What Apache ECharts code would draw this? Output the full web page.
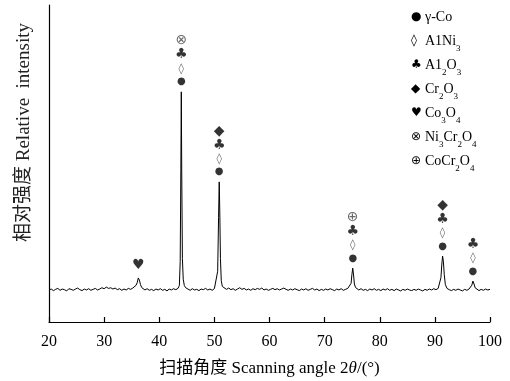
<!DOCTYPE html>
<html><head><meta charset="utf-8">
<script src="https://cdn.jsdelivr.net/npm/echarts@6/dist/echarts.min.js"></script>
<style>html,body{margin:0;padding:0;background:#fff}#c{width:510px;height:381px}</style>
</head><body><div id="c"></div>
<script>
// XRD scan: [2θ (°), relative intensity]
const scan = [
[20.0,101],[20.4,104],[20.8,99],[21.2,103],[21.6,106],[22.0,100],[22.4,104],[22.8,102],[23.2,98],[23.6,105],
[24.0,103],[24.4,100],[24.8,104],[25.2,107],[25.6,102],[26.0,99],[26.4,104],[26.8,101],[27.2,105],[27.6,100],
[28.0,103],[28.4,106],[28.8,101],[29.2,104],[29.6,108],[30.0,105],[30.4,110],[30.8,106],[31.2,108],[31.6,104],
[32.0,107],[32.4,102],[32.8,105],[33.2,100],[33.6,104],[34.0,101],[34.4,106],[34.8,103],[35.2,107],[35.5,111],
[35.8,116],[36.0,124],[36.2,139],[36.4,132],[36.6,118],[36.8,109],[37.1,104],[37.4,101],[37.8,105],[38.2,100],
[38.6,103],[39.0,99],[39.4,104],[39.8,101],[40.2,105],[40.6,100],[41.0,103],[41.4,98],[41.8,104],[42.2,101],
[42.6,105],[43.0,102],[43.4,106],[43.65,115],[43.8,190],[43.92,480],[44.0,726],[44.08,470],[44.2,200],[44.35,135],
[44.55,115],[44.8,108],[45.2,104],[45.6,100],[46.0,105],[46.4,101],[46.8,103],[47.2,99],[47.6,104],[48.0,102],
[48.4,106],[48.8,101],[49.2,104],[49.6,100],[50.0,105],[50.35,110],[50.6,160],[50.76,330],[50.88,442],[50.98,350],
[51.1,200],[51.25,130],[51.45,112],[51.8,106],
[52.2,103],[52.6,107],[53.0,102],[53.4,105],[53.8,100],[54.2,104],[54.6,108],[55.0,103],[55.4,106],[55.8,101],
[56.2,104],[56.6,100],[57.0,105],[57.4,102],[57.8,106],[58.2,103],[58.6,107],[59.0,101],[59.4,104],[59.8,100],
[60.2,103],[60.6,106],[61.0,102],[61.4,105],[61.8,101],[62.2,104],[62.6,107],[63.0,103],[63.4,100],[63.8,104],
[64.2,101],[64.6,105],[65.0,102],[65.4,99],[65.8,104],[66.2,101],[66.6,105],[67.0,100],[67.4,103],[67.8,106],
[68.2,101],[68.6,104],[69.0,99],[69.4,103],[69.8,100],[70.2,104],[70.6,101],[71.0,105],[71.4,102],[71.8,99],
[72.2,104],[72.6,101],[73.0,105],[73.4,100],[73.8,103],[74.2,106],[74.55,108],[74.8,122],[74.95,150],[75.1,170],
[75.25,148],[75.4,120],[75.6,109],[75.9,104],
[76.2,101],[76.6,105],[77.0,100],[77.4,103],[77.8,99],[78.2,104],[78.6,101],[79.0,105],[79.4,100],[79.8,103],
[80.2,99],[80.6,104],[81.0,101],[81.4,105],[81.8,100],[82.2,103],[82.6,99],[83.0,104],[83.4,101],[83.8,98],
[84.2,103],[84.6,100],[85.0,104],[85.4,101],[85.8,99],[86.2,103],[86.6,100],[87.0,104],[87.4,101],[87.8,98],
[88.2,103],[88.6,100],[89.0,104],[89.4,101],[89.8,105],[90.2,102],[90.6,106],[90.9,112],[91.1,140],[91.25,180],
[91.4,208],[91.55,190],[91.7,150],[91.9,118],[92.2,106],
[92.6,102],[93.0,99],[93.4,103],[93.8,100],[94.2,104],[94.6,101],[95.0,98],[95.4,103],[95.8,100],[96.2,104],
[96.5,107],[96.7,116],[96.9,129],[97.1,120],[97.3,108],[97.6,102],
[98.0,99],[98.4,103],[98.8,100],[99.2,104],[99.6,101],[100.0,103]
];

// Peak annotations: position of each labelled peak and phase symbols (bottom to top)
const peakAngles  = [36.2, 44.0, 50.88, 75.1, 91.4, 96.9];
const peakHeights = [139, 726, 442, 170, 208, 129];
const peakMarks   = [['♥'], ['●','◊','♣','⊗'], ['●','◊','♣','◆'], ['●','◊','♣','⊕'], ['●','◊','♣','◆'], ['●','◊','♣']];

// Phase legend entries
const legendSymbols = ['●','◊','♣','◆','♥','⊗','⊕'];
const legendNames = ['γ-Co','A1Ni{sub|3}','A1{sub|2}O{sub|3}','Cr{sub|2}O{sub|3}','Co{sub|3}O{sub|4}','Ni{sub|3}Cr{sub|2}O{sub|4}','CoCr{sub|2}O{sub|4}'];

const xTicks = [20,30,40,50,60,70,80,90,100];

const serif = 'Liberation Serif, "Noto Sans CJK SC", serif';
const symFont = 'DejaVu Sans, sans-serif';
const stackOff = [-10,-23,-37,-51];

const markData = [];
peakAngles.forEach((a,i)=>{
  peakMarks[i].forEach((m,k)=>{
    const off = peakMarks[i].length===1 ? -13 : stackOff[k];
    const col = (m==='◊'||m==='⊗'||m==='⊕') ? '#444' : '#000';
    const size = m==='●' ? 10 : (m==='◊' ? 11 : 14);
    markData.push({value:[a, peakHeights[i]], label:{formatter:m, offset:[0, off], fontSize:size, color:col}});
  });
});

const legendText = legendSymbols.map((s,i)=>'{s|'+s+'}{t|'+legendNames[i].replace(/\{sub\|(\d)\}/g,'}{sub|$1}{t|')+'}').join('\n');

const chart = echarts.init(document.getElementById('c'));
chart.setOption({
  animation:false,
  backgroundColor:'#fff',
  grid:{left:49, right:20, top:5, bottom:59, outerBoundsMode:'none', containLabel:false},
  title:{
    left:406, top:0,
    text: legendText,
    textStyle:{
      fontWeight:'normal',
      rich:{
        s:{fontFamily:symFont, fontSize:12, color:'#000', lineHeight:24, width:14, fontWeight:'normal'},
        t:{fontFamily:serif, fontSize:14, color:'#000', lineHeight:24, fontWeight:'normal'},
        sub:{fontFamily:serif, fontSize:9, color:'#000', lineHeight:17, verticalAlign:'bottom', fontWeight:'normal'}
      }
    }
  },
  xAxis:{
    type:'value', min:20, max:100, interval:10,
    axisLine:{show:true, lineStyle:{color:'#000', width:1.2}},
    axisTick:{show:true, inside:true, length:5, lineStyle:{color:'#000', width:1.2}},
    splitLine:{show:false},
    axisLabel:{color:'#000', fontFamily:serif, fontSize:16, margin:12,
      formatter:v=> xTicks.includes(v) ? String(v) : ''},
    name:'扫描角度 Scanning angle 2{i|θ}/(°)',
    nameLocation:'middle', nameGap:38,
    nameTextStyle:{color:'#000', fontFamily:serif, fontSize:17,
      rich:{i:{fontStyle:'italic', fontFamily:serif, fontSize:17, color:'#000'}}}
  },
  yAxis:{
    type:'value', min:0, max:1000,
    axisLine:{show:true, lineStyle:{color:'#000', width:1.2}},
    axisTick:{show:false}, axisLabel:{show:false}, splitLine:{show:false},
    name:'相对强度 Relative  intensity',
    nameLocation:'middle', nameGap:15, nameRotate:90,
    nameTextStyle:{color:'#222', fontFamily:serif, fontSize:19, padding:[0,0,0,62]}
  },
  series:[
    {type:'line', data:scan, showSymbol:false, symbol:'none',
     lineStyle:{color:'#000', width:1}, silent:true},
    {type:'scatter', data:markData, symbolSize:0, silent:true,
     label:{show:true, position:'inside', fontFamily:symFont}}
  ]
});
</script></body></html>
